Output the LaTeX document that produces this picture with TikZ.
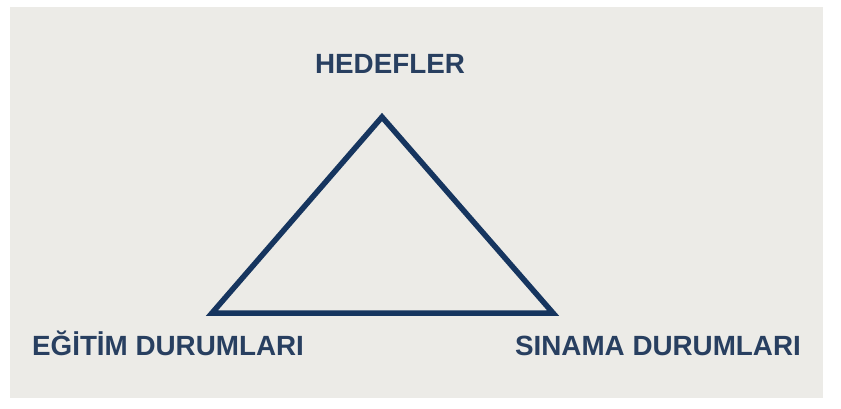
\documentclass[tikz,border=0pt]{standalone}
\usepackage{fontspec}
\setmainfont{Liberation Sans}
\usepackage{xcolor}
\usetikzlibrary{calc,positioning}
\definecolor{tri navy}{HTML}{16355F}
\definecolor{lbl navy}{HTML}{283F60}
\definecolor{paper}{HTML}{ECEBE7}
\tikzset{
 tri side/.style={line width=5.5pt,draw=tri navy,line join=miter},
 tri label/.style={font=\fontsize{27.8}{30}\selectfont\bfseries,text=lbl navy,
                   inner sep=0pt,anchor=base}
}
\begin{document}
\begin{tikzpicture}[x=1pt,y=-1pt]
 \fill[white] (0,0) rectangle (841,408);
 \fill[paper] (10,7) rectangle (823,398);
 \useasboundingbox (0,0) rectangle (841,408);

 \coordinate (apex) at (382,117);
 \coordinate (left) at (212,313);
 \coordinate (right) at (553,313);

 \draw[tri side] (apex) -- (left) -- (right) -- cycle;

 \node[tri label] (hedef) at (390,73) {HEDEFLER};
 \node[tri label] (egitim) at (168,355) {EĞİTİM DURUMLARI};
 \node[tri label] (sinama) at (658,355) {SINAMA DURUMLARI};
\end{tikzpicture}
\end{document}
